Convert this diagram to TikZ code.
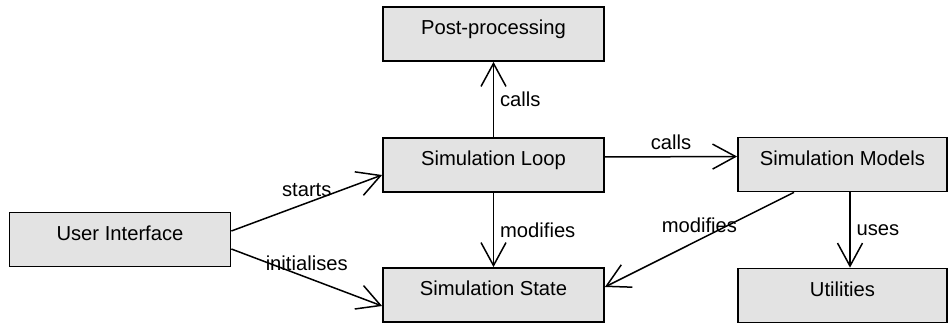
\documentclass[tikz,border=0pt]{standalone}
\usepackage{fontspec}
\setmainfont{Liberation Sans}
\usetikzlibrary{arrows.meta}

\begin{document}
\begin{tikzpicture}[
    x=0.2mm, y=-0.2mm,
    font=\fontsize{11.5}{13.8}\selectfont,
    >={Straight Barb[length=4.6mm,width=5mm]},
    block/.style={draw, line width=0.35mm, fill=black!11, minimum height=10.8mm,
      minimum width=44.2mm, inner sep=2pt, text height=2mm, text depth=1.6mm},
    link/.style={->, line width=0.3mm},
]
\useasboundingbox (0,0) rectangle (949,324);

% ---- components ----
\node[block] (post) at (493.5,34) {Post-processing};
\node[block] (loop) at (493.5,165) {Simulation Loop};
\node[block] (ui) at (120,239.5) {User Interface};
\node[block] (state) at (493.5,295) {Simulation State};
\node[block, minimum width=41.8mm] (models) at (842.5,164.5) {Simulation Models};
\node[block, minimum width=41.8mm] (util) at (842.5,295.5) {Utilities};

% ---- connectors ----
\draw[link] ([yshift=1.7mm]ui.east) -- node[above] {starts} ([yshift=-2mm]loop.west);
\draw[link] ([yshift=-1.9mm]ui.east) -- node[above] {initialises} ([yshift=-2.2mm]state.west);
\draw[link] (loop) -- node[right] {calls} (post);
\draw[link] (loop) -- node[right] {modifies} (state);
\draw[link] ([yshift=1.6mm]loop.east) -- node[above] {calls} ([yshift=1.6mm]models.west);
\draw[link] ([xshift=-9.7mm]models.south) -- node[above] {modifies} ([yshift=1.6mm]state.east);
\draw[link] ([xshift=1.5mm]models.south) -- node[right] {uses} ([xshift=1.5mm]util.north);

\end{tikzpicture}
\end{document}
